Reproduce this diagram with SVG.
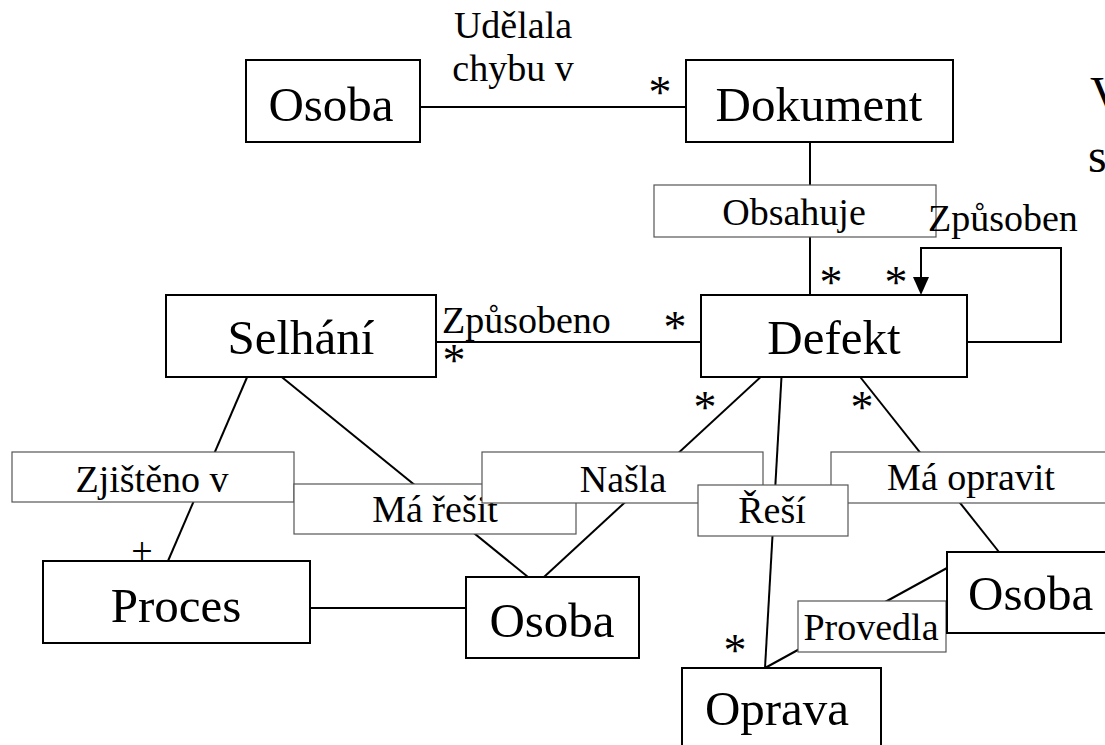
<svg xmlns="http://www.w3.org/2000/svg" width="1105" height="745" viewBox="0 0 1105 745">
  <style>
    .node rect { fill: #ffffff; stroke: #000000; stroke-width: 2; }
    .node text { font-family: "Liberation Serif", "Times New Roman", serif; font-size: 49px; fill: #000000; }
    .label rect { fill: #ffffff; stroke: #555555; stroke-width: 1.2; }
    .label text, .rolename { font-family: "Liberation Serif", "Times New Roman", serif; font-size: 38px; fill: #000000; }
    .mult { font-family: "Liberation Serif", "Times New Roman", serif; font-size: 46px; fill: #000000; text-anchor: middle; }
    .edge { fill: none; stroke: #000000; stroke-width: 2; }
    .bg { font-family: "Liberation Serif", "Times New Roman", serif; font-size: 48px; fill: #000000; }
  </style>
  <defs>
    <marker id="arrow" markerWidth="16" markerHeight="18" refX="8" refY="17" orient="auto-start-reverse" markerUnits="userSpaceOnUse" viewBox="0 0 16 18">
      <path d="M0,0 L16,0 L8,18 Z" fill="#000000"/>
    </marker>
  </defs>

  <rect width="1105" height="745" fill="#ffffff"/>

  <!-- slide text partly outside the frame -->
  <text class="bg" x="1090" y="110">V</text>
  <text class="bg" x="1088" y="172">s</text>

  <!-- associations -->
  <g id="connectors">
    <line class="edge" x1="420" y1="107" x2="686" y2="107"/>
    <line class="edge" x1="810" y1="142" x2="810" y2="295"/>
    <line class="edge" x1="436" y1="342" x2="701" y2="342"/>
    <polyline class="edge" points="967,342 1061,342 1061,248 921,248 921,277"/>
    <path d="M913,277 L929,277 L921,295 Z" fill="#000000"/>
    <line class="edge" x1="248" y1="375" x2="168" y2="561"/>
    <line class="edge" x1="278" y1="374" x2="528" y2="577"/>
    <line class="edge" x1="764" y1="374" x2="544" y2="577"/>
    <line class="edge" x1="782" y1="368" x2="765" y2="668"/>
    <line class="edge" x1="857" y1="373" x2="999" y2="552"/>
    <line class="edge" x1="765" y1="668" x2="947" y2="568"/>
    <line class="edge" x1="310" y1="608" x2="466" y2="608"/>
  </g>

  <!-- association name boxes -->
  <g id="label-obsahuje" class="label">
    <rect x="654" y="185" width="282" height="52"/>
    <text x="794" y="225" text-anchor="middle">Obsahuje</text>
  </g>
  <g id="label-zjisteno" class="label">
    <rect x="12" y="452" width="282" height="50"/>
    <text x="152" y="492" text-anchor="middle">Zjištěno v</text>
  </g>
  <g id="label-ma-resit" class="label">
    <rect x="294" y="484" width="282" height="50"/>
    <text x="435" y="522" text-anchor="middle">Má řešit</text>
  </g>
  <g id="label-nasla" class="label">
    <rect x="482" y="452" width="281" height="51"/>
    <text x="623" y="492" text-anchor="middle">Našla</text>
  </g>
  <g id="label-ma-opravit" class="label">
    <rect x="831" y="452" width="290" height="51"/>
    <text x="971" y="490" text-anchor="middle">Má opravit</text>
  </g>
  <g id="label-resi" class="label">
    <rect x="698" y="485" width="150" height="51"/>
    <text x="772" y="523" text-anchor="middle">Řeší</text>
  </g>
  <g id="label-provedla" class="label">
    <rect x="798" y="601" width="148" height="51"/>
    <text x="871" y="640" text-anchor="middle">Provedla</text>
  </g>

  <!-- free association names -->
  <text class="rolename" x="513" y="38" text-anchor="middle">Udělala</text>
  <text class="rolename" x="513" y="81" text-anchor="middle">chybu v</text>
  <text class="rolename" x="928" y="231">Způsoben</text>
  <text class="rolename" x="442" y="333">Způsobeno</text>

  <!-- multiplicities -->
  <text class="mult" x="660" y="108">*</text>
  <text class="mult" x="831" y="298">*</text>
  <text class="mult" x="896" y="298">*</text>
  <text class="mult" x="675" y="343">*</text>
  <text class="mult" x="454" y="376">*</text>
  <text class="mult" x="705" y="423">*</text>
  <text class="mult" x="862" y="423">*</text>
  <text class="mult" x="735" y="666">*</text>
  <text class="rolename" x="142" y="564" text-anchor="middle">+</text>

  <!-- classes -->
  <g id="node-osoba-1" class="node">
    <rect x="246" y="60" width="174" height="82"/>
    <text x="331" y="121" text-anchor="middle">Osoba</text>
  </g>
  <g id="node-dokument" class="node">
    <rect x="686" y="60" width="267" height="82"/>
    <text x="819" y="121" text-anchor="middle">Dokument</text>
  </g>
  <g id="node-defekt" class="node">
    <rect x="701" y="295" width="266" height="82"/>
    <text x="834" y="354" text-anchor="middle">Defekt</text>
  </g>
  <g id="node-selhani" class="node">
    <rect x="166" y="295" width="270" height="82"/>
    <text x="301" y="354" text-anchor="middle">Selhání</text>
  </g>
  <g id="node-proces" class="node">
    <rect x="43" y="561" width="267" height="82"/>
    <text x="176" y="622" text-anchor="middle">Proces</text>
  </g>
  <g id="node-osoba-2" class="node">
    <rect x="466" y="577" width="173" height="81"/>
    <text x="552" y="637" text-anchor="middle">Osoba</text>
  </g>
  <g id="node-osoba-3" class="node">
    <rect x="947" y="552" width="180" height="81"/>
    <text x="968" y="610">Osoba</text>
  </g>
  <g id="node-oprava" class="node">
    <rect x="682" y="668" width="199" height="90"/>
    <text x="777" y="725" text-anchor="middle">Oprava</text>
  </g>
</svg>
